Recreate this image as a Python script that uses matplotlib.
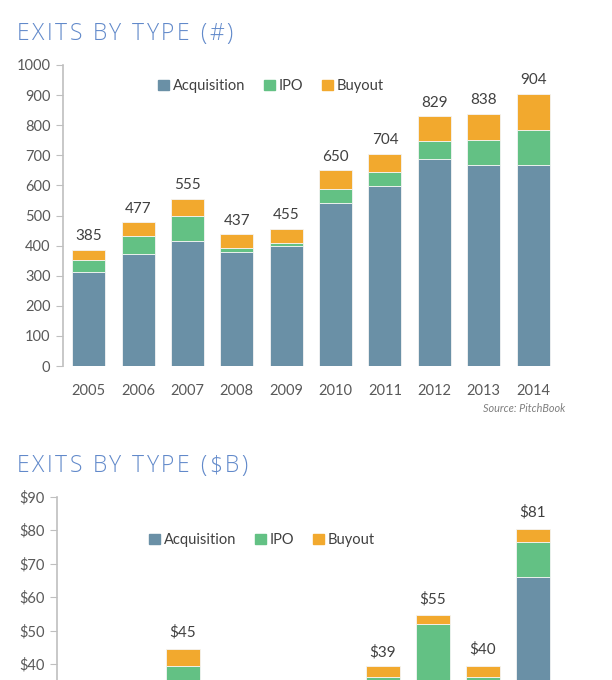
import numpy as np
import matplotlib
matplotlib.use('Agg')
import matplotlib.pyplot as plt
from matplotlib.patches import Patch
from matplotlib.font_manager import FontProperties
from matplotlib.textpath import TextToPath

# data
years = ['2005', '2006', '2007', '2008', '2009', '2010', '2011', '2012', '2013', '2014']

# exits by type (#)
cnt_acq = [313, 373, 415, 380, 399, 543, 598, 688, 668, 669]
cnt_ipo = [39, 59, 82, 13, 9, 45, 48, 61, 83, 116]
cnt_buy = [33, 45, 58, 44, 47, 62, 58, 80, 87, 119]
cnt_tot = [385, 477, 555, 437, 455, 650, 704, 829, 838, 904]

# exits by type ($B) - lower part of this chart is cut off in the picture
val_acq = [10.0, 12.0, 20.0, 11.0, 8.0, 13.0, 26.0, 15.0, 30.0, 66.1]
val_ipo = [4.0, 5.0, 19.5, 3.0, 2.0, 5.0, 10.2, 37.1, 6.2, 10.4]
val_buy = [4.0, 5.0, 5.0, 5.0, 4.0, 5.0, 3.2, 2.7, 3.3, 4.0]
val_tot = [18, 22, 45, 19, 14, 23, 39, 55, 40, 81]

c_acq = '#6a90a6'
c_ipo = '#63c184'
c_buy = '#f2a92e'
txt = '#404040'
tick_c = '#595959'
title_c = '#6189ca'

plt.rcParams['font.family'] = ['Lato', 'DejaVu Sans']

W, H = 612, 680
fig = plt.figure(figsize=(W / 100, H / 100), dpi=100)


def spaced_title(x_px, y_px, s, size=16.5, track=2.4):
    # letter-spaced heading, placed char by char
    prop = FontProperties(family='Open Sans', weight='light', size=size)
    t2p = TextToPath()
    x = x_px
    for ch in s:
        fig.text(x / W, 1 - y_px / H, ch, fontproperties=prop, color=title_c,
                 ha='left', va='baseline')
        w, _, _ = t2p.get_text_width_height_descent(ch if ch != ' ' else 'i', prop, ismath=False)
        if ch == ' ':
            w = size * 0.26
        x += w * 100 / 72 + track


def draw(ax, acq, ipo, buy, tot, ymax, step, fmt, lab_off, show_x=True):
    x = np.arange(len(years))
    kw = dict(width=0.67, edgecolor='#f4f4f4', linewidth=0.6)
    ax.bar(x, acq, color=c_acq, **kw)
    ax.bar(x, ipo, bottom=acq, color=c_ipo, **kw)
    ax.bar(x, buy, bottom=np.array(acq) + np.array(ipo), color=c_buy, **kw)
    ax.set_xlim(-0.52, 9.6)
    ax.set_ylim(0, ymax)
    # lowest value still inside the image
    y_vis = max(0, ax.transData.inverted().transform((0, 0))[1])
    for i, t in enumerate(tot):
        if t + lab_off > y_vis:
            ax.text(x[i], t + lab_off, fmt.format(t), ha='center', va='bottom',
                    fontsize=11, color=txt)
    ticks = [v for v in np.arange(0, ymax + step / 2, step) if v >= y_vis]
    ax.set_yticks(ticks)
    ax.set_yticklabels([fmt.format(int(v)) for v in ticks])
    if show_x:
        ax.set_xticks(x)
        ax.set_xticklabels(years)
    else:
        ax.set_xticks([])
    for s in ['top', 'right', 'bottom']:
        ax.spines[s].set_visible(False)
    ax.spines['left'].set_color('#bfbfbf')
    ax.spines['left'].set_linewidth(1.2)
    ax.tick_params(axis='y', length=5, color='#bfbfbf', labelsize=10.5,
                   labelcolor=tick_c, pad=4)
    ax.tick_params(axis='x', length=0, labelsize=10.5, labelcolor=tick_c, pad=13)
    handles = [Patch(color=c_acq, label='Acquisition'),
               Patch(color=c_ipo, label='IPO'),
               Patch(color=c_buy, label='Buyout')]
    return handles


# top chart
ax1 = fig.add_axes([63 / W, 1 - 366 / H, 0.8165, (366 - 65) / H])
h = draw(ax1, cnt_acq, cnt_ipo, cnt_buy, cnt_tot, 1000, 100, '{}', 22)
ax1.legend(handles=h, ncol=3, frameon=False, loc='center left',
           bbox_to_anchor=(158 / W, 1 - 86 / H), bbox_transform=fig.transFigure,
           handlelength=0.75, handleheight=0.75, handletextpad=0.25,
           columnspacing=1.3, borderpad=0, borderaxespad=0, fontsize=10.5,
           labelcolor=txt)
spaced_title(17, 40, 'EXITS BY TYPE (#)')
fig.text(565 / W, 1 - 409 / H, 'Source: PitchBook', fontsize=7.8, color='#7f7f7f',
         style='italic', ha='right', va='center')

# bottom chart (runs past the lower edge of the image)
ax2 = fig.add_axes([57 / W, 1 - 798 / H, 0.8268, (798 - 496.7) / H])
h = draw(ax2, val_acq, val_ipo, val_buy, val_tot, 90, 10, '${}', 2.3, show_x=False)
ax2.legend(handles=h, ncol=3, frameon=False, loc='center left',
           bbox_to_anchor=(149 / W, 1 - 540 / H), bbox_transform=fig.transFigure,
           handlelength=0.75, handleheight=0.75, handletextpad=0.25,
           columnspacing=1.3, borderpad=0, borderaxespad=0, fontsize=10.5,
           labelcolor=txt)
spaced_title(17, 472, 'EXITS BY TYPE ($B)')

fig.savefig('out.png', dpi=100)
